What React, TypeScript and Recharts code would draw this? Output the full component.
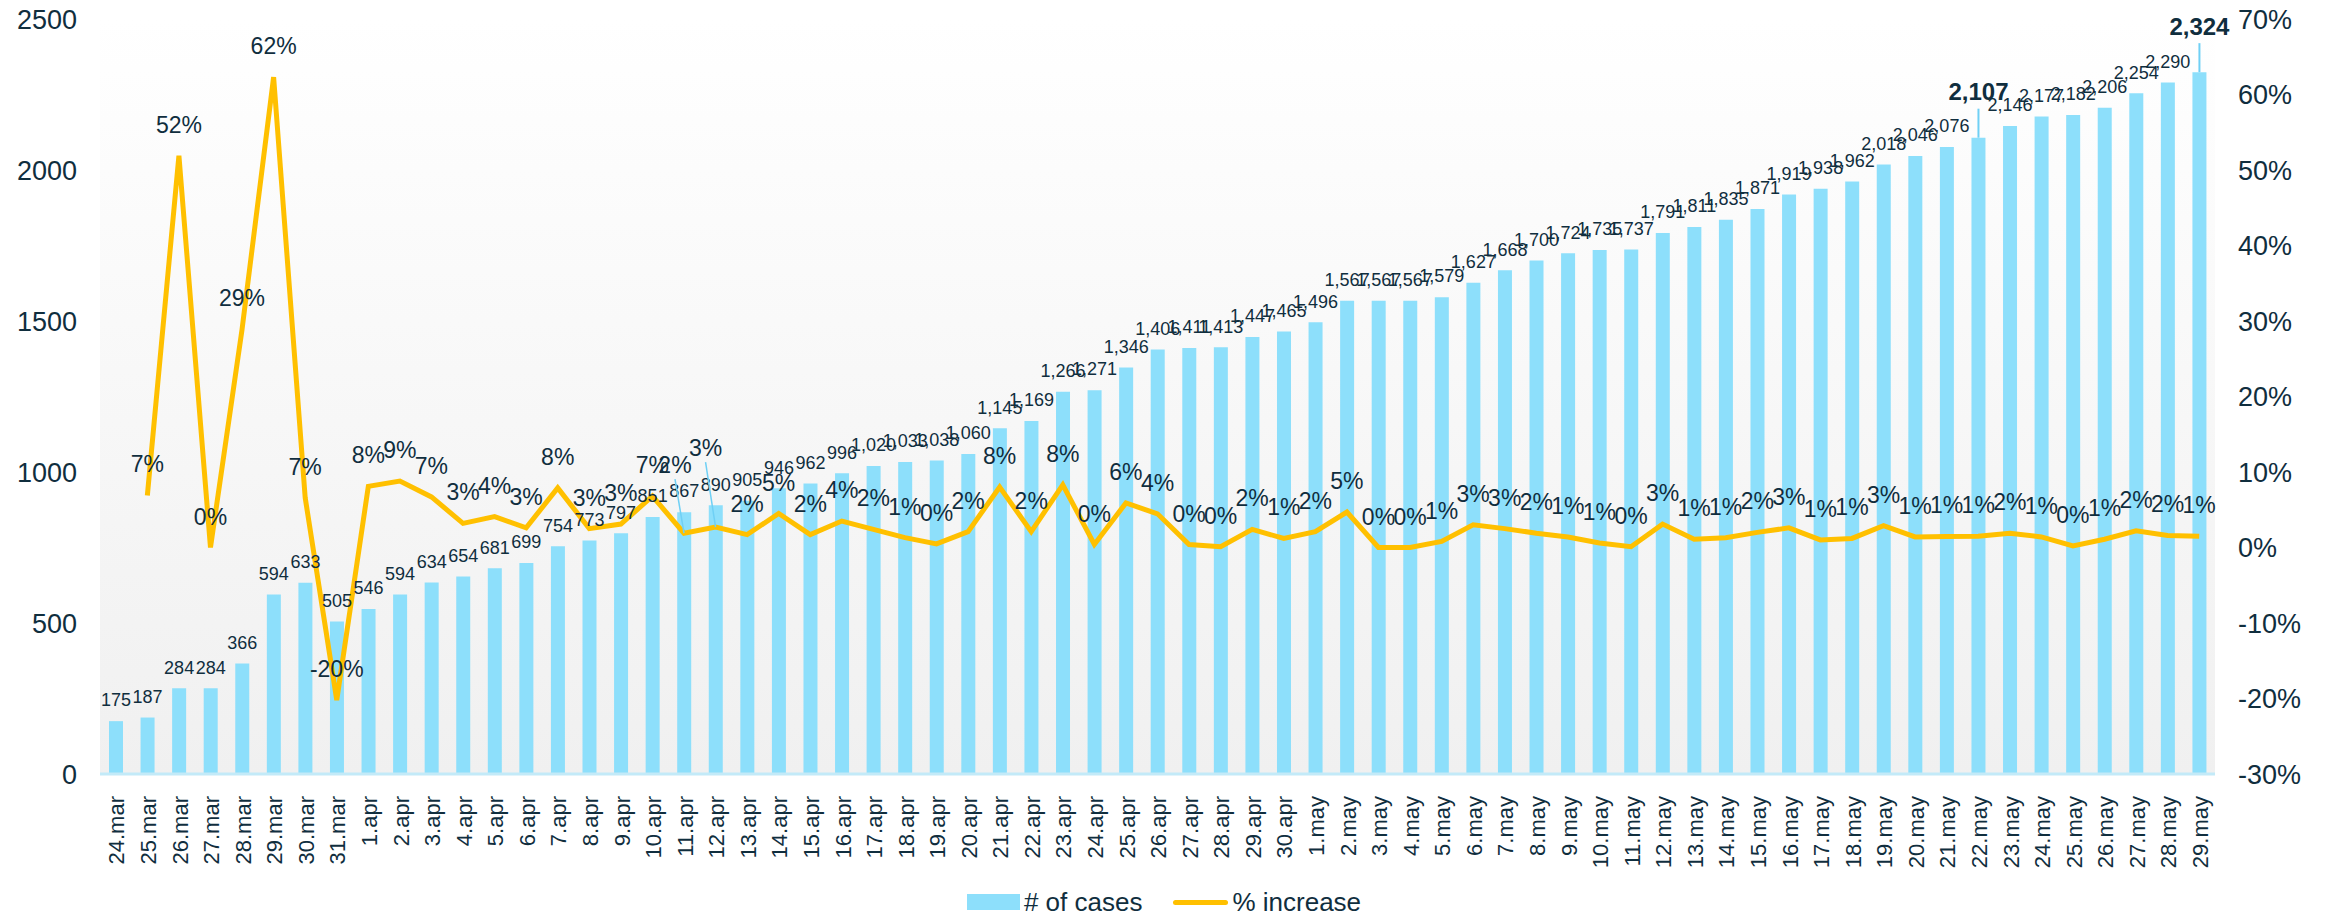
import React from 'react';
import { ComposedChart, Bar, Line, XAxis, YAxis, CartesianGrid, LabelList, Legend } from 'recharts';

const dates = [
  '24.mar', '25.mar', '26.mar', '27.mar', '28.mar', '29.mar', '30.mar', '31.mar',
  '1.apr', '2.apr', '3.apr', '4.apr', '5.apr', '6.apr', '7.apr', '8.apr', '9.apr', '10.apr',
  '11.apr', '12.apr', '13.apr', '14.apr', '15.apr', '16.apr', '17.apr', '18.apr', '19.apr', '20.apr',
  '21.apr', '22.apr', '23.apr', '24.apr', '25.apr', '26.apr', '27.apr', '28.apr', '29.apr', '30.apr',
  '1.may', '2.may', '3.may', '4.may', '5.may', '6.may', '7.may', '8.may', '9.may', '10.may',
  '11.may', '12.may', '13.may', '14.may', '15.may', '16.may', '17.may', '18.may', '19.may', '20.may',
  '21.may', '22.may', '23.may', '24.may', '25.may', '26.may', '27.may', '28.may', '29.may',
];

const cases = [
  175, 187, 284, 284, 366, 594, 633, 505,
  546, 594, 634, 654, 681, 699, 754, 773, 797, 851,
  867, 890, 905, 946, 962, 996, 1020, 1033, 1038, 1060,
  1145, 1169, 1266, 1271, 1346, 1406, 1411, 1413, 1447, 1465,
  1496, 1567, 1567, 1567, 1579, 1627, 1668, 1700, 1724, 1735,
  1737, 1791, 1811, 1835, 1871, 1919, 1938, 1962, 2018, 2046,
  2076, 2107, 2146, 2177, 2182, 2206, 2254, 2290, 2324,
];

const pctIncrease: (number | null)[] = [
  null, 6.9, 51.9, 0, 28.9, 62.3, 6.6, -20.2,
  8.1, 8.8, 6.7, 3.2, 4.1, 2.6, 7.9, 2.5, 3.1, 6.8,
  1.9, 2.7, 1.7, 4.5, 1.7, 3.5, 2.4, 1.3, 0.48, 2.1,
  8.0, 2.1, 8.3, 0.4, 5.9, 4.46, 0.4, 0.1, 2.4, 1.2,
  2.1, 4.7, 0, 0, 0.8, 3.0, 2.5, 1.9, 1.4, 0.6,
  0.1, 3.1, 1.1, 1.3, 2.0, 2.6, 1.0, 1.2, 2.9, 1.4,
  1.47, 1.49, 1.9, 1.4, 0.2, 1.1, 2.2, 1.6, 1.48,
];

const leftTicks = [0, 500, 1000, 1500, 2000, 2500];
const rightTicks = [-30, -20, -10, 0, 10, 20, 30, 40, 50, 60, 70];
const highlightedDates = ['22.may', '29.may'];

const data = dates.map((d, i) => ({ date: d, cases: cases[i], pct: pctIncrease[i] }));

const TEXT = '#102E3E';
const BAR = '#8DDFFB';
const LINE = '#FFC000';
const FONT = '"Liberation Sans", Arial, sans-serif';

// label nudges for crowded percentage labels (index -> offset)
const pctLabelNudge: Record<number, { dx: number; dy: number }> = {
  18: { dx: -9, dy: -68 },
  19: { dx: -10, dy: -79 },
};

const fmt = (v: number) => v.toLocaleString('en-US');

const BarLabel = (props: any) => {
  const { x, y, width, value, index } = props;
  const cx = Number(x) + Number(width) / 2;
  const top = Number(y);
  if (highlightedDates.includes(dates[index])) {
    return (
      <g>
        <line x1={cx} x2={cx} y1={top} y2={top - 29} stroke="#6FD0F5" strokeWidth={2} />
        <text x={cx} y={top - 46} dy="0.35em" textAnchor="middle" fontSize={24} fontWeight="bold" fill={TEXT} fontFamily={FONT}>
          {fmt(value)}
        </text>
      </g>
    );
  }
  return (
    <text x={cx} y={top - 21} dy="0.35em" textAnchor="middle" fontSize={18} fill={TEXT} fontFamily={FONT}>
      {fmt(value)}
    </text>
  );
};

const PctLabel = (props: any) => {
  const { x, y, value, index } = props;
  if (value === null || value === undefined) return null;
  const nudge = pctLabelNudge[index];
  const px = Number(x);
  const py = Number(y);
  const lx = px + (nudge ? nudge.dx : 0);
  const ly = py + (nudge ? nudge.dy : -31);
  return (
    <g>
      {nudge && <line x1={lx} y1={ly + 14} x2={px} y2={py} stroke="#6FD0F5" strokeWidth={1.5} />}
      <text x={lx} y={ly} dy="0.35em" textAnchor="middle" fontSize={23} fill={TEXT} fontFamily={FONT}>
        {`${Math.round(value)}%`}
      </text>
    </g>
  );
};

const DateTick = (props: any) => {
  const { x, y, payload } = props;
  const tx = Number(x) + 1;
  const ty = Number(y) + 14;
  return (
    <text x={tx} y={ty} transform={`rotate(-90, ${tx}, ${ty})`} textAnchor="end" dy="0.35em" fontSize={22} fill={TEXT} fontFamily={FONT}>
      {payload.value}
    </text>
  );
};

const LegendContent = () => (
  <div
    style={{
      height: 40,
      paddingTop: 18,
      boxSizing: 'border-box',
      display: 'flex',
      justifyContent: 'center',
      alignItems: 'center',
      fontFamily: FONT,
      fontSize: 26,
      color: TEXT,
    }}
  >
    <span style={{ display: 'inline-block', width: 53, height: 16, background: BAR, marginRight: 4 }} />
    <span style={{ marginRight: 31 }}># of cases</span>
    <span style={{ display: 'inline-block', width: 55, height: 5, background: LINE, borderRadius: 3, marginRight: 4 }} />
    <span>% increase</span>
  </div>
);

export default function App() {
  return (
    <div style={{ position: 'absolute', left: 0, top: 0, width: 2328, height: 913, background: '#fff' }}>
      <ComposedChart width={2328} height={913} data={data} margin={{ top: 19, right: 0, bottom: 0, left: 0 }} barCategoryGap={0}>
        <defs>
          <linearGradient id="bgGrad" x1="0" y1="0" x2="0" y2="1">
            <stop offset="0%" stopColor="#FFFFFF" />
            <stop offset="100%" stopColor="#F0F0F0" />
          </linearGradient>
        </defs>
        <CartesianGrid yAxisId="left" horizontal={false} vertical={false} fill="url(#bgGrad)" stroke="none" />
        <XAxis
          dataKey="date"
          interval={0}
          tick={<DateTick />}
          tickLine={false}
          axisLine={{ stroke: '#C3EAF8', strokeWidth: 3 }}
          height={99}
        />
        <YAxis
          yAxisId="left"
          domain={[0, 2500]}
          ticks={leftTicks}
          axisLine={false}
          tickLine={false}
          tickSize={0}
          tickMargin={23}
          width={100}
          tick={{ fontSize: 27, fill: TEXT, fontFamily: FONT }}
        />
        <YAxis
          yAxisId="right"
          orientation="right"
          domain={[-30, 70]}
          ticks={rightTicks}
          axisLine={false}
          tickLine={false}
          tickSize={0}
          tickMargin={23}
          width={113}
          tickFormatter={(v: number) => `${v}%`}
          tick={{ fontSize: 27, fill: TEXT, fontFamily: FONT }}
        />
        <Bar yAxisId="left" dataKey="cases" name="# of cases" fill={BAR} barSize={14} isAnimationActive={false}>
          <LabelList dataKey="cases" content={<BarLabel />} />
        </Bar>
        <Line
          yAxisId="right"
          dataKey="pct"
          name="% increase"
          type="linear"
          stroke={LINE}
          strokeWidth={5}
          dot={false}
          activeDot={false}
          isAnimationActive={false}
        >
          <LabelList dataKey="pct" content={<PctLabel />} />
        </Line>
        <Legend verticalAlign="bottom" height={40} content={<LegendContent />} />
      </ComposedChart>
    </div>
  );
}
